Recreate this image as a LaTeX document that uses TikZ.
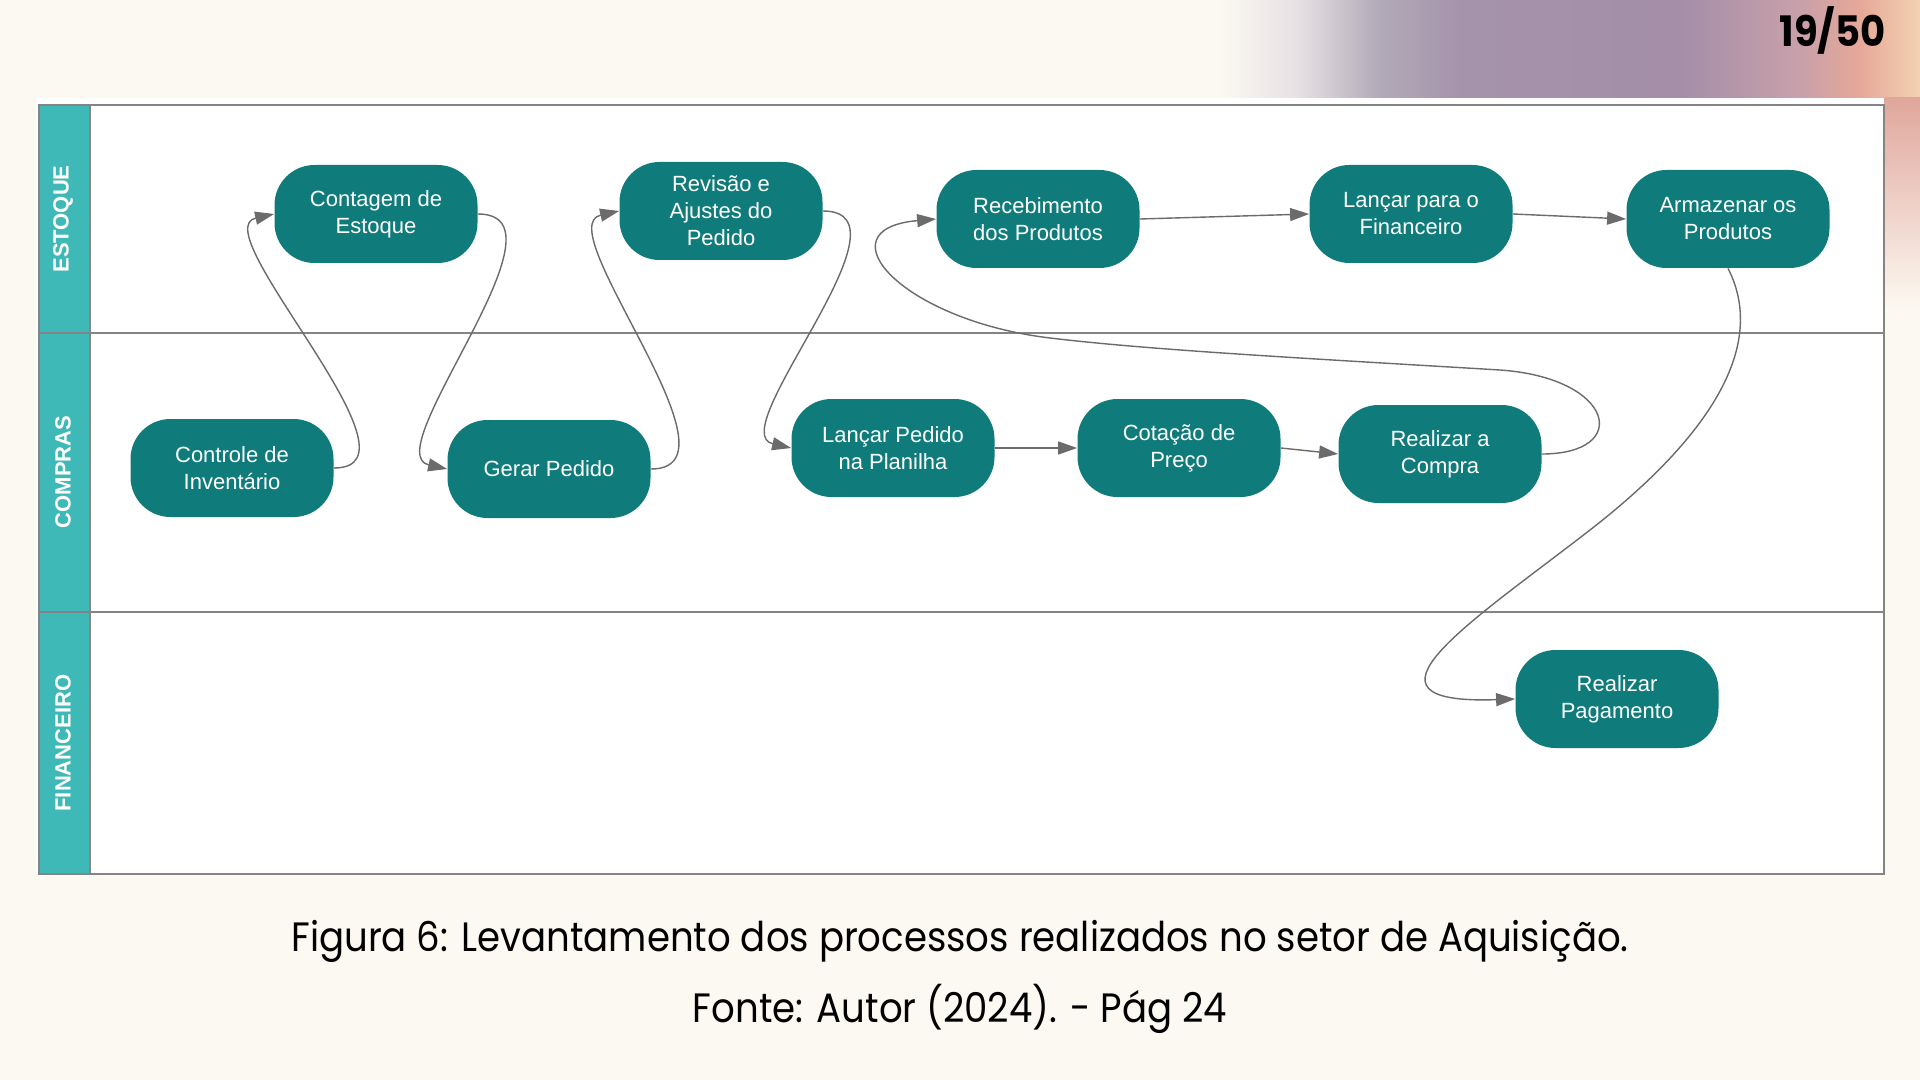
\documentclass[tikz,border=0pt]{standalone}
\usepackage{fontspec}
\usepackage{graphicx}
\setmainfont{Liberation Sans}
\newfontfamily\pop{Poppins}
\usetikzlibrary{arrows.meta}
\definecolor{bgcream}{HTML}{FCF9F2}
\definecolor{lanecol}{HTML}{3FB8B8}
\definecolor{nodeteal}{HTML}{0F7C7B}
\definecolor{linegrey}{HTML}{6B6B6B}
\definecolor{framegrey}{HTML}{848484}
\definecolor{fadegrey}{HTML}{E6E0E4}
\definecolor{mauvegrey}{HTML}{B2AAB8}
\definecolor{mauve}{HTML}{A593AB}
\definecolor{mauvetwo}{HTML}{A48EA8}
\definecolor{pinkm}{HTML}{C8A0AA}
\definecolor{salmon}{HTML}{E6A898}
\definecolor{peach}{HTML}{F2D2B2}
\pgfdeclarehorizontalshading{topglow}{100bp}{color(0bp)=(bgcream); color(29.5bp)=(bgcream); color(34.7bp)=(fadegrey); color(39.9bp)=(mauvegrey); color(45.1bp)=(mauve); color(59.4bp)=(mauvetwo); color(67.2bp)=(pinkm); color(71.1bp)=(salmon); color(75bp)=(peach); color(100bp)=(peach)}
\tikzset{
  proc/.style={draw=none, fill=nodeteal, text=white, rounded corners=20pt,
    minimum width=101.5pt, minimum height=49pt, inner sep=0pt, align=center,
    font=\fontsize{11}{13.5}\selectfont},
  lanelabel/.style={rotate=90, text=white, font=\bfseries\fontsize{11}{11}\selectfont},
  conn/.style={draw=linegrey, line width=0.7pt, -{Triangle[length=9.5pt,width=6.5pt]}},
  frameline/.style={draw=framegrey, line width=1pt},
  captext/.style={anchor=base, inner sep=0pt, font=\pop\fontsize{20.5}{20.5}\selectfont}
}
\begin{document}
\begin{tikzpicture}[x=0.5pt, y=-0.5pt]
\useasboundingbox (0,0) rectangle (1920,1080);
% background
\fill[bgcream] (0,0) rectangle (1920,1080);
\shade[shading=topglow] (1150,0) rectangle (1920,98);
\shade[top color=salmon!80!pinkm, bottom color=bgcream] (1884,98) rectangle (1920,310);
% diagram area
\fill[white] (36,98) rectangle (1884,874);
\fill[lanecol] (39,105) rectangle (90,874);
\draw[frameline] (39,105) rectangle (1884,874);
\draw[frameline] (90,105) -- (90,874);
\draw[frameline] (39,333) -- (1884,333);
\draw[frameline] (39,612) -- (1884,612);
\node[lanelabel] (l1) at (63,219) {ESTOQUE};
\node[lanelabel] (l2) at (63,472) {COMPRAS};
\node[lanelabel] (l3) at (63,743) {FINANCEIRO};
% page number
\node[anchor=base east, inner sep=0pt, font=\pop\bfseries\fontsize{21}{21}\selectfont] (pg) at (1886,47) {\scalebox{0.92}[1]{19/50}};
% nodes
\node[proc] (ce) at (376,214) {Contagem de\\Estoque};
\node[proc] (ra) at (721,211) {Revisão e\\Ajustes do\\Pedido};
\node[proc] (rp) at (1038,219) {Recebimento\\dos Produtos};
\node[proc] (lf) at (1411,214) {Lançar para o\\Financeiro};
\node[proc] (ar) at (1728,219) {Armazenar os\\Produtos};
\node[proc] (ci) at (232,468) {Controle de\\Inventário};
\node[proc] (gp) at (549,469) {Gerar Pedido};
\node[proc] (lp) at (893,448) {Lançar Pedido\\na Planilha};
\node[proc] (cp) at (1179,448) {Cotação de\\Preço};
\node[proc] (rc) at (1440,454) {Realizar a\\Compra};
\node[proc] (pa) at (1617,699) {Realizar\\Pagamento};
% connectors
\draw[conn] (ci.east) .. controls +(100,0) and +(-72,16) .. (ce.west);
\draw[conn] (ce.east) .. controls +(100,0) and +(-72,-16) .. (gp.west);
\draw[conn] (gp.east) .. controls +(100,0) and +(-72,16) .. (ra.west);
\draw[conn] (ra.east) .. controls +(98,0) and +(-70,-16) .. (lp.west);
\draw[conn] (lp.east) -- (cp.west);
\draw[conn] (cp.east) -- (rc.west);
\draw[conn] (rc.east) .. controls +(90,0) and (1615,378) .. (1500,370)
  .. controls (1300,358) and (1150,350) .. (1050,338)
  .. controls (900,320) and +(-115,10) .. (rp.west);
\draw[conn] (rp.east) -- (lf.west);
\draw[conn] (lf.east) -- (ar.west);
\draw[conn] (ar.south) .. controls (1775,360) and (1680,460) .. (1590,530)
  .. controls (1470,623) and +(-174,6) .. (pa.west);
% caption
\node[captext] (cap1) at (960,951) {\scalebox{0.905}[1]{Figura 6: Levantamento dos processos realizados no setor de Aquisição.}};
\node[captext] (cap2) at (960,1022) {\scalebox{0.905}[1]{Fonte: Autor (2024). - Pág 24}};
\end{tikzpicture}
\end{document}
